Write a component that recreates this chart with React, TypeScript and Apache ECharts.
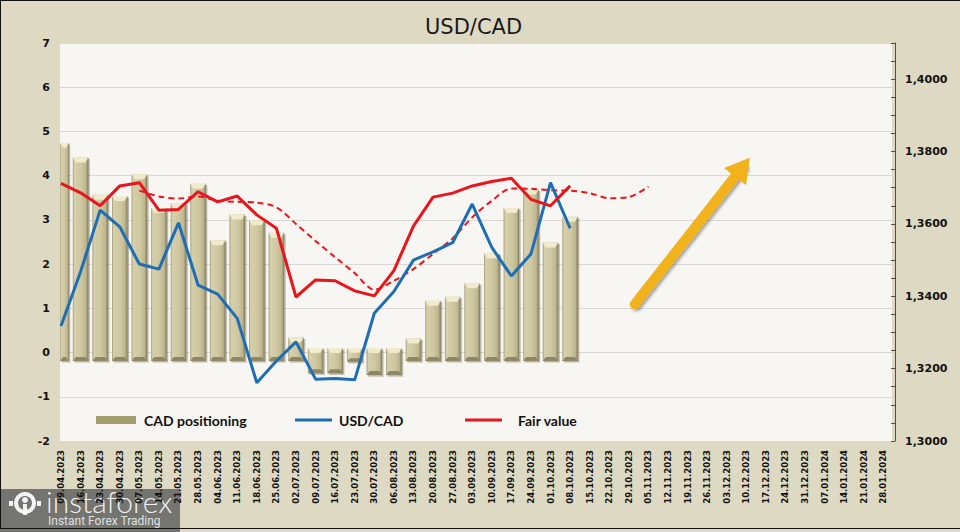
import React, { useEffect, useRef } from 'react';
import * as echarts from 'echarts';

const dates = [
  '09.04.2023', '16.04.2023', '23.04.2023', '30.04.2023', '07.05.2023', '14.05.2023', '21.05.2023',
  '28.05.2023', '04.06.2023', '11.06.2023', '18.06.2023', '25.06.2023', '02.07.2023', '09.07.2023',
  '16.07.2023', '23.07.2023', '30.07.2023', '06.08.2023', '13.08.2023', '20.08.2023', '27.08.2023',
  '03.09.2023', '10.09.2023', '17.09.2023', '24.09.2023', '01.10.2023', '08.10.2023', '15.10.2023',
  '22.10.2023', '29.10.2023', '05.11.2023', '12.11.2023', '19.11.2023', '26.11.2023', '03.12.2023',
  '10.12.2023', '17.12.2023', '24.12.2023', '31.12.2023', '07.01.2024', '14.01.2024', '21.01.2024',
  '28.01.2024',
];

const cadPositioning = [
  4.74, 4.41, 3.57, 3.54, 4.03, 3.27, 3.37, 3.82, 2.54, 3.12, 2.99, 2.71, 0.34, -0.47,
  -0.47, -0.21, -0.51, -0.51, 0.32, 1.17, 1.26, 1.57, 2.24, 3.27, 3.69, 2.49, 3.07,
];

const usdCad = [
  1.3318, 1.3468, 1.3638, 1.3592, 1.3489, 1.3475, 1.3603, 1.3431, 1.3406, 1.3339, 1.3161, 1.3221,
  1.3274, 1.3171, 1.3173, 1.3169, 1.3353, 1.3413, 1.35, 1.3523, 1.3548, 1.3655, 1.3535, 1.3456,
  1.3517, 1.3714, 1.3588,
];

const fairValue = [
  1.3712, 1.3686, 1.365, 1.3705, 1.3714, 1.3638, 1.364, 1.3689, 1.3661, 1.3677, 1.3625, 1.3588,
  1.3398, 1.3445, 1.3443, 1.3415, 1.3401, 1.3471, 1.3594, 1.3674, 1.3685, 1.3705, 1.3717, 1.3726,
  1.3668, 1.365, 1.3705,
];

const fairValueTrend = [
  null, null, null, null, 1.3692, 1.3676, 1.367, 1.3676, 1.3664, 1.3661, 1.3659, 1.3646, 1.36,
  1.3553, 1.3508, 1.3464, 1.3418, 1.3443, 1.3475, 1.3517, 1.356, 1.3618, 1.3664, 1.3698, 1.3697,
  1.3693, 1.3692, 1.3685, 1.3671, 1.3674, 1.3703,
];

// arrow annotation: [category position, USD/CAD level]
const arrowStart = [29.3, 1.3378];
const arrowEnd = [34.8, 1.3757];

const leftTicks = { min: -2, max: 7, interval: 1 };
const rightTicks = { min: 1.3, max: 1.41, interval: 0.02 };

const BLUE = '#1F6EB4';
const RED = '#E8161C';
const GOLD = '#F1B21B';
const LABEL_FONT = 'DejaVu Sans';

function renderBar(params: any, api: any) {
  const i = api.value(0);
  const v = api.value(1);
  const pTop = api.coord([i, v]);
  const pBase = api.coord([i, 0]);
  const w = 15.5;
  let x = pTop[0] - w / 2;
  const right = x + w;
  const cs = params.coordSys;
  const clipLeft = cs.x - 1;
  if (x < clipLeft) x = clipLeft;
  const bw = right - x;
  let yTop: number;
  let yBot: number;
  if (v >= 0) {
    yTop = pTop[1];
    yBot = pBase[1] + 8.5;
  } else {
    yTop = pBase[1] - 4.5;
    yBot = pTop[1];
  }
  const h = yBot - yTop;
  const cap = Math.min(5, h / 3);
  return {
    type: 'group',
    children: [
      {
        type: 'rect',
        shape: { x: x + 1.5, y: yTop + 1.5, width: bw, height: h },
        style: { fill: 'rgba(70,64,40,0.35)' },
      },
      {
        type: 'rect',
        shape: { x, y: yTop, width: bw, height: h },
        style: {
          fill: {
            type: 'linear', x: 0, y: 0, x2: 1, y2: 0,
            colorStops: [
              { offset: 0, color: '#9C9672' },
              { offset: 0.1, color: '#D6D0AB' },
              { offset: 0.55, color: '#CEC7A0' },
              { offset: 0.85, color: '#BCB58E' },
              { offset: 1, color: '#7E7856' },
            ],
          },
        },
      },
      {
        type: 'polygon',
        shape: { points: [[x, yTop], [right, yTop], [right - 3, yTop + cap], [x + 3, yTop + cap]] },
        style: { fill: '#F0EBCD' },
      },
      {
        type: 'polygon',
        shape: { points: [[x, yBot], [right, yBot], [right - 3, yBot - cap * 0.8], [x + 3, yBot - cap * 0.8]] },
        style: { fill: '#8D8763' },
      },
    ],
  };
}

const legendText = {
  fontFamily: 'Lato',
  fontWeight: 'bold' as const,
  fontSize: 14,
  color: '#111',
};

export default function App() {
  const ref = useRef<HTMLDivElement>(null);

  useEffect(() => {
    const chart = echarts.init(ref.current!, null, { renderer: 'svg' });
    const option: any = {
      animation: false,
      backgroundColor: '#DDD9C3',
      title: {
        text: 'USD/CAD',
        left: 420,
        top: 11,
        textStyle: { fontFamily: LABEL_FONT, fontSize: 21, fontWeight: 'normal', color: '#1a1a1a' },
      },
      grid: [
        { left: 60, right: 68, top: 43, bottom: 91, show: true, backgroundColor: '#F7F6F2', borderWidth: 0 },
        { left: 61, right: 76.6, top: 43, bottom: 91 },
      ],
      xAxis: [
        { gridIndex: 0, type: 'value', min: -0.05, max: 42.44, show: false },
        {
          gridIndex: 1,
          type: 'category',
          data: dates,
          boundaryGap: false,
          axisLine: { show: false },
          axisTick: { show: false },
          splitLine: { show: false },
          axisLabel: {
            rotate: 90,
            interval: 0,
            margin: 9,
            fontFamily: LABEL_FONT,
            fontWeight: 'bold',
            fontSize: 8.5,
            color: '#111',
          },
        },
      ],
      yAxis: [
        {
          gridIndex: 0,
          type: 'value',
          position: 'left',
          ...leftTicks,
          axisLine: { show: false },
          axisTick: { show: false },
          splitLine: { show: true, lineStyle: { color: '#D8D8D6', width: 1 } },
          axisLabel: { margin: 10, fontFamily: LABEL_FONT, fontWeight: 'bold', fontSize: 11, color: '#111' },
        },
        {
          gridIndex: 0,
          type: 'value',
          position: 'right',
          offset: 3,
          ...rightTicks,
          axisLine: { show: true, lineStyle: { color: '#5A4A3C', width: 1 } },
          axisTick: { show: true, inside: true, length: 4, lineStyle: { color: '#5A4A3C' } },
          minorTick: { show: true, splitNumber: 4, length: 4, lineStyle: { color: '#5A4A3C' } },
          splitLine: { show: false },
          axisLabel: {
            margin: 10,
            showMaxLabel: false,
            fontFamily: LABEL_FONT,
            fontWeight: 'bold',
            fontSize: 11,
            color: '#111',
            formatter: (v: number) => v.toFixed(4).replace('.', ','),
          },
        },
        { gridIndex: 1, type: 'value', ...leftTicks, show: false, splitLine: { show: false } },
        { gridIndex: 1, type: 'value', ...rightTicks, show: false, splitLine: { show: false } },
      ],
      legend: [
        {
          selectedMode: false,
          left: 91,
          top: 408,
          itemWidth: 40,
          itemHeight: 8,
          data: [{ name: 'CAD positioning', icon: 'rect', itemStyle: { color: '#A49D6E' } }],
          textStyle: { ...legendText, padding: [0, 0, 0, 3] },
        },
        {
          selectedMode: false,
          left: 290,
          top: 408,
          itemWidth: 37,
          itemHeight: 3,
          data: [{ name: 'USD/CAD', icon: 'rect', itemStyle: { color: BLUE } }],
          textStyle: { ...legendText, padding: [0, 0, 0, 2] },
        },
        {
          selectedMode: false,
          left: 460,
          top: 408,
          itemWidth: 37,
          itemHeight: 3,
          data: [{ name: 'Fair value', icon: 'rect', itemStyle: { color: RED } }],
          textStyle: { ...legendText, padding: [0, 0, 0, 11] },
        },
      ],
      series: [
        {
          name: 'CAD positioning',
          type: 'custom',
          xAxisIndex: 1,
          yAxisIndex: 2,
          z: 2,
          itemStyle: { color: '#A49D6E' },
          renderItem: renderBar,
          data: cadPositioning.map((v, i) => [i, v]),
        },
        {
          name: 'Fair value trend',
          type: 'line',
          xAxisIndex: 1,
          yAxisIndex: 3,
          z: 3,
          smooth: 0.3,
          symbol: 'none',
          connectNulls: false,
          lineStyle: { color: RED, width: 2, type: [6, 4] },
          itemStyle: { color: RED },
          data: fairValueTrend,
        },
        {
          name: 'USD/CAD',
          type: 'line',
          xAxisIndex: 1,
          yAxisIndex: 3,
          z: 4,
          symbol: 'none',
          lineStyle: { color: BLUE, width: 3 },
          itemStyle: { color: BLUE },
          data: usdCad,
        },
        {
          name: 'Fair value',
          type: 'line',
          xAxisIndex: 1,
          yAxisIndex: 3,
          z: 5,
          symbol: 'none',
          lineStyle: { color: RED, width: 3 },
          itemStyle: { color: RED },
          data: fairValue,
        },
        {
          name: 'arrow',
          type: 'line',
          xAxisIndex: 0,
          yAxisIndex: 1,
          z: 6,
          data: [],
          markLine: {
            silent: true,
            symbol: ['none', 'triangle'],
            symbolSize: [28, 24],
            label: { show: false },
            emphasis: { disabled: true },
            itemStyle: { color: GOLD },
            lineStyle: {
              color: GOLD,
              width: 10,
              type: 'solid',
              cap: 'round',
              opacity: 1,
              shadowColor: 'rgba(0,0,0,0.35)',
              shadowBlur: 3,
              shadowOffsetX: 2,
              shadowOffsetY: 2,
            },
            data: [[{ coord: arrowStart }, { coord: arrowEnd }]],
          },
        },
      ],
      graphic: [
        { type: 'line', z: 100, shape: { x1: 0, y1: 0.5, x2: 960, y2: 0.5 }, style: { stroke: '#111', lineWidth: 1 } },
        { type: 'line', z: 100, shape: { x1: 0.5, y1: 0, x2: 0.5, y2: 529 }, style: { stroke: '#111', lineWidth: 1 } },
        { type: 'line', z: 100, shape: { x1: 0, y1: 528.5, x2: 960, y2: 528.5 }, style: { stroke: '#111', lineWidth: 1 } },
        {
          type: 'group',
          z: 100,
          children: [
            { type: 'rect', shape: { x: 0, y: 489, width: 180, height: 43 }, style: { fill: 'rgba(98,98,98,0.85)' } },
            { type: 'ring', shape: { cx: 25, cy: 503, r: 11, r0: 7 }, style: { fill: 'rgba(255,255,255,0.92)' } },
            { type: 'circle', shape: { cx: 25, cy: 500, r: 3 }, style: { fill: 'rgba(255,255,255,0.92)' } },
            { type: 'rect', shape: { x: 23, y: 504, width: 4, height: 11 }, style: { fill: 'rgba(255,255,255,0.92)' } },
            { type: 'rect', shape: { x: 9, y: 501, width: 4, height: 5 }, style: { fill: 'rgba(255,255,255,0.92)' } },
            { type: 'rect', shape: { x: 37, y: 501, width: 4, height: 5 }, style: { fill: 'rgba(255,255,255,0.92)' } },
            {
              type: 'text',
              x: 46,
              y: 486,
              style: {
                text: 'instaforex',
                fontFamily: 'Lato',
                fontWeight: 300,
                fontSize: 30,
                fill: 'rgba(255,255,255,0.92)',
              },
            },
            {
              type: 'text',
              x: 48,
              y: 515,
              style: {
                text: 'Instant Forex Trading',
                fontFamily: 'Roboto',
                fontSize: 12,
                fill: 'rgba(255,255,255,0.8)',
              },
            },
          ],
        },
      ],
    };
    chart.setOption(option);
    return () => chart.dispose();
  }, []);

  return <div ref={ref} style={{ position: 'absolute', left: 0, top: 0, width: 960, height: 532 }} />;
}
